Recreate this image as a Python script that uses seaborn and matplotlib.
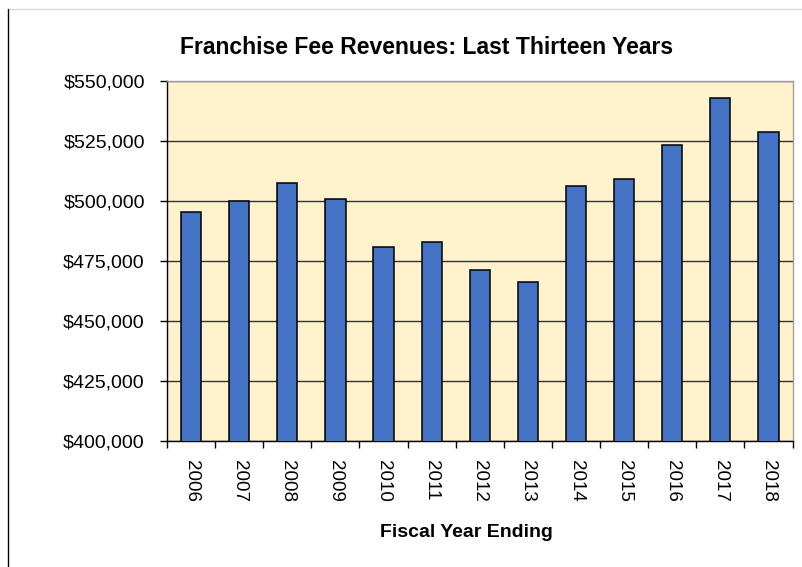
import numpy as np
import pandas as pd
import seaborn as sns
import matplotlib.pyplot as plt
import matplotlib.ticker as ticker
from matplotlib.lines import Line2D

years = ['2006', '2007', '2008', '2009', '2010', '2011', '2012',
         '2013', '2014', '2015', '2016', '2017', '2018']
revenues = [495250, 500100, 507600, 501000, 481000, 482800, 471200,
            466500, 506400, 509300, 523200, 542800, 528900]
y_ticks = [400000, 425000, 450000, 475000, 500000, 525000, 550000]

df = pd.DataFrame({'year': years, 'revenue': revenues})

sns.set_style('white')
plt.rcParams['font.family'] = ['Liberation Sans', 'DejaVu Sans']
plt.rcParams['text.color'] = 'black'
plt.rcParams['xtick.color'] = 'black'
plt.rcParams['ytick.color'] = 'black'
plt.rcParams['axes.labelcolor'] = 'black'

fig = plt.figure(figsize=(8.03, 5.67), dpi=100)
ax = fig.add_axes([0.208, 0.222, 0.779, 0.635])
ax.set_facecolor('#FFF2CC')

sns.barplot(data=df, x='year', y='revenue', color='#4472C4', width=0.42,
            edgecolor='black', linewidth=1.1, saturation=1, ax=ax, zorder=3)

ax.set_ylim(400000, 550000)
ax.set_xlim(-0.5, len(years) - 0.5)
ax.set_yticks(y_ticks)
ax.yaxis.set_major_formatter(ticker.FuncFormatter(lambda v, p: '${:,.0f}'.format(v)))
ax.grid(axis='y', color='#333333', linewidth=1, zorder=0)
ax.set_axisbelow(True)

# year labels in the middle, tick marks between the bars
ax.set_xticks(np.arange(-0.5, len(years), 1), minor=True)
ax.tick_params(axis='x', which='major', length=0, pad=13.5, labelsize=13.5,
               labelrotation=-90)
ax.tick_params(axis='x', which='minor', length=5, width=1, color='black',
               direction='out', bottom=True)
ax.tick_params(axis='y', which='major', length=5, width=1, color='black',
               direction='out', left=True, pad=11, labelsize=14)

for lab in ax.get_xticklabels():
    lab.set_va('top')
    lab.set_ha('center')

ax.spines['left'].set_color('black')
ax.spines['bottom'].set_color('black')
ax.spines['top'].set_color('#A0A0A0')
ax.spines['right'].set_color('#A0A0A0')
for s in ax.spines.values():
    s.set_linewidth(1)

ax.set_ylabel('')
ax.set_xlabel('Fiscal Year Ending', fontsize=14, fontweight='bold')
ax.xaxis.set_label_coords(0.479, -0.255)
ax.xaxis.label.set_va('center')

fig.text(427 / 803, 1 - 47 / 567, 'Franchise Fee Revenues: Last Thirteen Years',
         ha='center', va='center', fontsize=16.5, fontweight='bold')

# page border bits
fig.add_artist(Line2D([8 / 803, 1], [1 - 9 / 567, 1 - 9 / 567], color='#D9D9D9', lw=1))
fig.add_artist(Line2D([8 / 803, 8 / 803], [0, 1 - 9 / 567], color='black', lw=1))

fig.savefig('out.png', dpi=100)
